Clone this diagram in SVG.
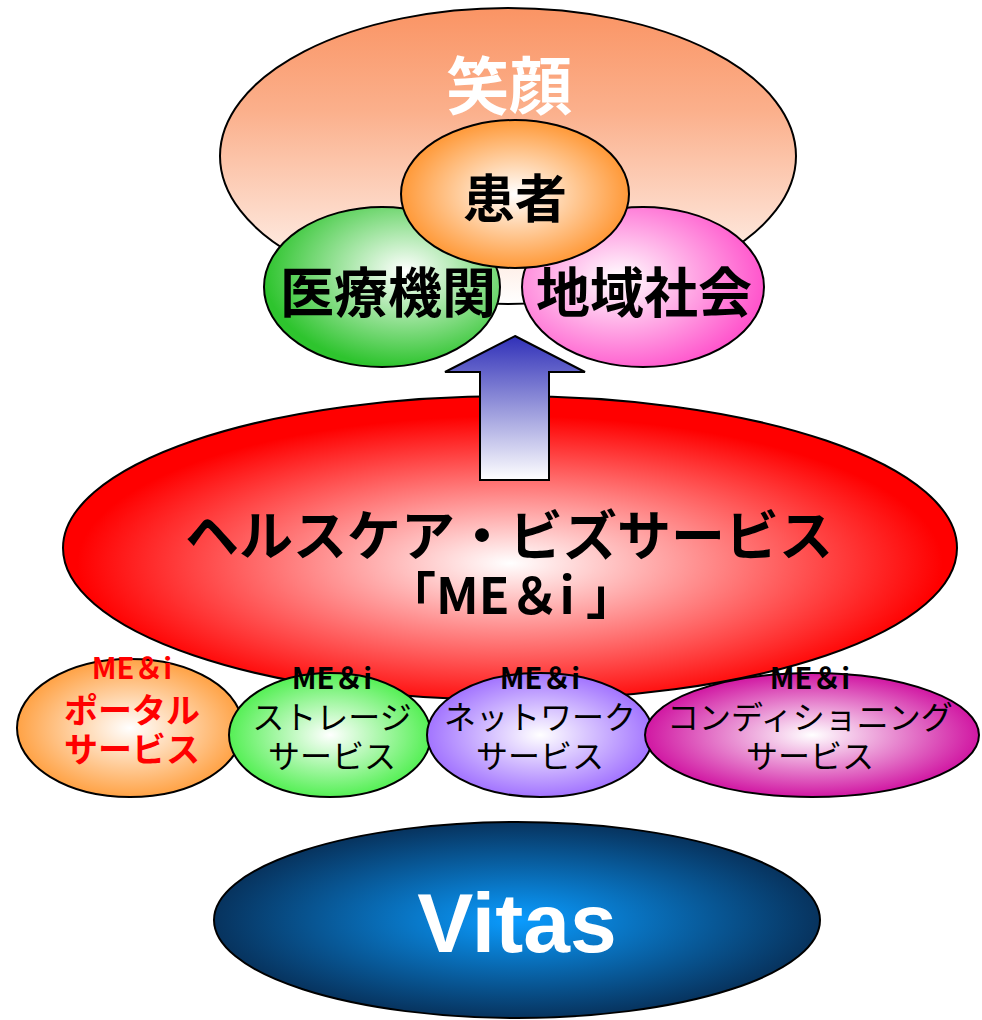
<svg xmlns="http://www.w3.org/2000/svg" width="982" height="1020" viewBox="0 0 982 1020">
<style>
.sh{stroke:#000;stroke-width:2}
.t{font-family:"Noto Sans CJK JP","Noto Sans",sans-serif;text-anchor:middle}
.b{font-weight:bold}
</style>
<defs>
<linearGradient id="gTop" x1="0" y1="0" x2="0" y2="1"><stop offset="0" stop-color="#fa9464"/><stop offset="0.35" stop-color="#fbb08c"/><stop offset="1" stop-color="#ffffff"/></linearGradient>
<linearGradient id="gArrow" x1="0" y1="0" x2="0" y2="1"><stop offset="0" stop-color="#3030b8"/><stop offset="1" stop-color="#ffffff"/></linearGradient>
<radialGradient id="gOrange" cx="0.5" cy="0.5" r="0.55"><stop offset="0" stop-color="#ffffff"/><stop offset="0.9" stop-color="#ff9a3a"/></radialGradient>
<radialGradient id="gGreen" cx="0.6" cy="0.4" r="0.6"><stop offset="0" stop-color="#ffffff"/><stop offset="1" stop-color="#2ec42e"/></radialGradient>
<radialGradient id="gPink" cx="0.4" cy="0.45" r="0.6"><stop offset="0" stop-color="#ffffff"/><stop offset="1" stop-color="#ff55cc"/></radialGradient>
<radialGradient id="gRed" cx="0.5" cy="0.55" r="0.55"><stop offset="0" stop-color="#ffffff"/><stop offset="0.88" stop-color="#ff0000"/></radialGradient>
<radialGradient id="gPortal" cx="0.5" cy="0.5" r="0.55"><stop offset="0" stop-color="#ffffff"/><stop offset="1" stop-color="#ff9933"/></radialGradient>
<radialGradient id="gStorage" cx="0.5" cy="0.5" r="0.55"><stop offset="0" stop-color="#ffffff"/><stop offset="1" stop-color="#44ee44"/></radialGradient>
<radialGradient id="gNet" cx="0.5" cy="0.5" r="0.55"><stop offset="0" stop-color="#ffffff"/><stop offset="1" stop-color="#9966ff"/></radialGradient>
<radialGradient id="gCond" cx="0.5" cy="0.5" r="0.55"><stop offset="0" stop-color="#ffffff"/><stop offset="1" stop-color="#cc0099"/></radialGradient>
<radialGradient id="gVitas" cx="0.5" cy="0.5" r="0.5"><stop offset="0" stop-color="#0a9cff"/><stop offset="1" stop-color="#07335e"/></radialGradient>
</defs>

<g id="egao">
<ellipse class="sh" cx="508" cy="156" rx="288" ry="148" fill="url(#gTop)"/>
<text class="t b" x="509" y="109" font-size="63" fill="#fff">笑顔</text>
</g>
<g id="iryo">
<ellipse class="sh" cx="382" cy="287" rx="118" ry="80" fill="url(#gGreen)"/>
<text class="t b" x="388" y="313" font-size="54" fill="#000">医療機関</text>
</g>
<g id="chiiki">
<ellipse class="sh" cx="643" cy="287" rx="121" ry="80" fill="url(#gPink)"/>
<text class="t b" x="644" y="313" font-size="54" fill="#000">地域社会</text>
</g>
<g id="kanja">
<ellipse class="sh" cx="515" cy="194" rx="114" ry="74" fill="url(#gOrange)"/>
<text class="t b" x="515" y="218" font-size="52" fill="#000">患者</text>
</g>

<g id="hcbiz">
<ellipse class="sh" cx="510" cy="548" rx="447" ry="152" fill="url(#gRed)"/>
</g>

<g id="connectors">
<polygon class="sh" points="515,336 585,372 549,372 549,480 480,480 480,372 445,372" fill="url(#gArrow)"/>
</g>

<g id="hctext">
<text class="t b" x="509" y="556" font-size="54" fill="#000">ヘルスケア・ビズサービス</text>
<text class="t b" x="511" y="614" font-size="50" fill="#000">「ME＆i 」</text>
</g>

<g id="portal">
<ellipse class="sh" cx="130" cy="728" rx="113" ry="69" fill="url(#gPortal)"/>
</g>
<g id="storage">
<ellipse class="sh" cx="330" cy="735" rx="101" ry="62" fill="url(#gStorage)"/>
</g>
<g id="network">
<ellipse class="sh" cx="540" cy="735" rx="113" ry="62" fill="url(#gNet)"/>
</g>
<g id="cond">
<ellipse class="sh" cx="812" cy="735" rx="167" ry="62" fill="url(#gCond)"/>
</g>

<g id="subtexts">
<text class="t b" x="132" y="679" font-size="29" fill="#ff0000">ME＆i</text>
<text class="t b" x="132" y="723" font-size="34" fill="#ff0000">ポータル</text>
<text class="t b" x="132" y="762" font-size="34" fill="#ff0000">サービス</text>
<text class="t b" x="332" y="689" font-size="29" fill="#000">ME＆i</text>
<text class="t" x="332" y="729" font-size="32" fill="#000">ストレージ</text>
<text class="t" x="332" y="768" font-size="32" fill="#000">サービス</text>
<text class="t b" x="540" y="689" font-size="29" fill="#000">ME＆i</text>
<text class="t" x="540" y="729" font-size="32" fill="#000">ネットワーク</text>
<text class="t" x="540" y="768" font-size="32" fill="#000">サービス</text>
<text class="t b" x="810" y="689" font-size="29" fill="#000">ME＆i</text>
<text class="t" x="810" y="729" font-size="32" fill="#000">コンディショニング</text>
<text class="t" x="810" y="768" font-size="32" fill="#000">サービス</text>
</g>

<g id="vitas">
<ellipse class="sh" cx="517" cy="920" rx="303" ry="98" fill="url(#gVitas)"/>
<text x="517" y="952" font-family="Liberation Sans, Arial, sans-serif" font-weight="bold" font-size="84" fill="#fff" text-anchor="middle">Vitas</text>
</g>
</svg>
